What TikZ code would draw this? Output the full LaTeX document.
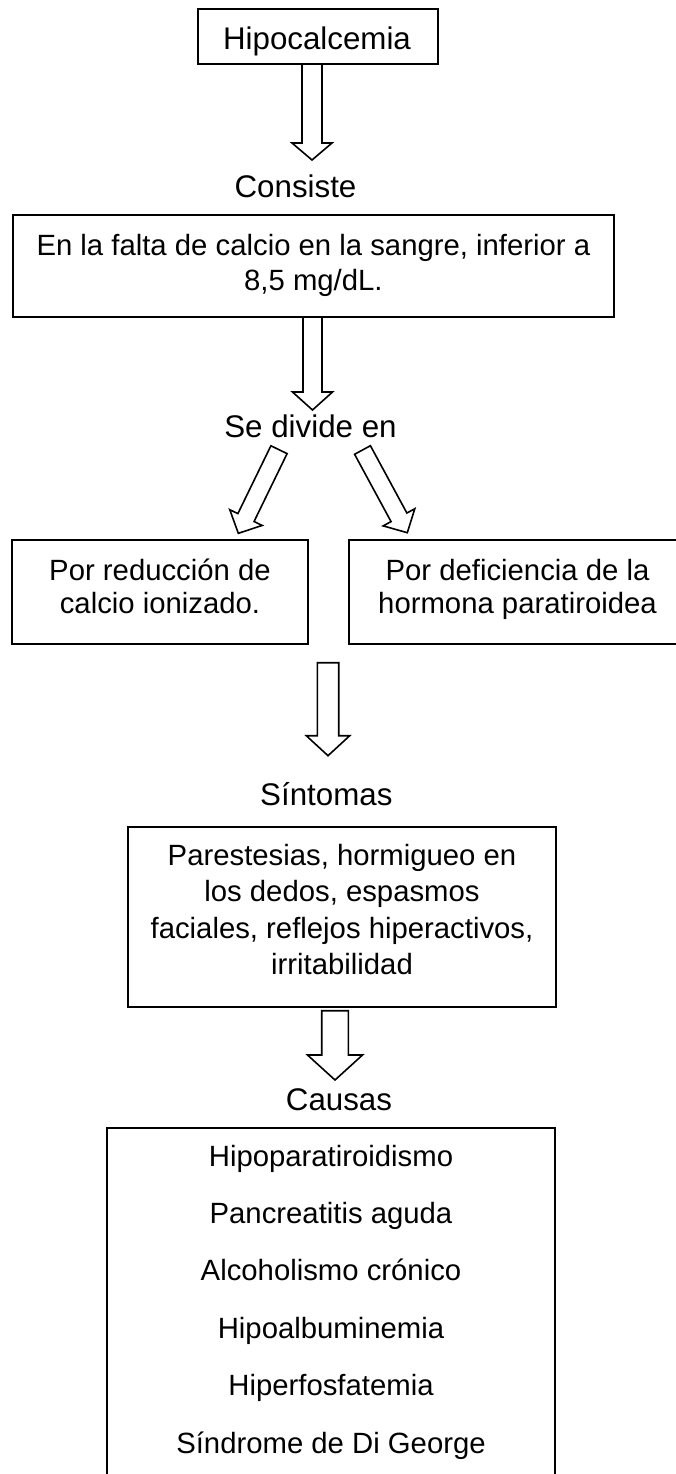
\documentclass[tikz,border=0pt]{standalone}
\usepackage{fontspec}
\setmainfont{Liberation Sans}
\usetikzlibrary{calc}
\tikzset{
  boxsty/.style={draw=black, line width=2pt, fill=none, inner sep=0pt},
  boxtxt/.style={font=\fontsize{29.3}{34.5}\selectfont, inner sep=0pt, anchor=base},
  lbl/.style={font=\fontsize{31.3}{36}\selectfont, inner sep=0pt, anchor=base},
  blockarr/.style={draw=black, line width=1.6pt, fill=white, line join=miter},
}
\newcommand{\blockarrow}[6]{%
  \coordinate (#1-h) at ($(#3)!#6!(#2)$);
  \draw[blockarr] ($(#2)!#4!90:(#3)$) -- ($(#1-h)!#4!90:(#3)$) -- ($(#1-h)!#5!90:(#3)$) -- (#3) -- ($(#1-h)!#5!-90:(#3)$) -- ($(#1-h)!#4!-90:(#3)$) -- ($(#2)!#4!-90:(#3)$) -- cycle;
}
\newcommand{\lines}[2]{{\fontsize{29.3}{#1}\selectfont\begin{tabular}[t]{@{}c@{}}#2\end{tabular}}}
\begin{document}
\begin{tikzpicture}[x=1pt,y=-1pt]
\useasboundingbox (0,0) rectangle (675,1474);

% boxes
\node[boxsty, minimum width=240pt, minimum height=54.7pt] (hipo) at (318,36.7) {};
\node[boxsty, minimum width=601.3pt, minimum height=101.7pt] (falta) at (313.4,265.9) {};
\node[boxsty, minimum width=296.6pt, minimum height=104pt] (red) at (160,592) {};
\node[boxsty, minimum width=337pt, minimum height=104pt] (def) at (517.5,592) {};
\node[boxsty, minimum width=427.7pt, minimum height=180pt] (sint) at (342.2,916.6) {};
\node[boxsty, minimum width=448.3pt, minimum height=372.3pt] (causbox) at (330.9,1313.85) {};

% texts
\node[lbl] (hipot) at (317,50) {Hipocalcemia};
\node[lbl] (consiste) at (295.5,197) {Consiste};
\node[boxtxt] (faltat) at (313.4,255) {\lines{35}{En la falta de calcio en la sangre, inferior a\\8,5 mg/dL.}};
\node[lbl] (sedivide) at (310.5,437) {Se divide en};
\node[boxtxt] (redt) at (160,580) {\lines{33.5}{Por reducción de\\calcio ionizado.}};
\node[boxtxt] (deft) at (517.5,580) {\lines{33.5}{Por deficiencia de la\\hormona paratiroidea}};
\node[lbl] (sintomas) at (326.3,805) {Síntomas};
\node[boxtxt] (sintt) at (342,865) {\lines{36.5}{Parestesias, hormigueo en\\los dedos, espasmos\\faciales, reflejos hiperactivos,\\irritabilidad}};
\node[lbl] (causas) at (339,1110) {Causas};
\node[boxtxt] (c1) at (331,1166) {Hipoparatiroidismo};
\node[boxtxt] (c2) at (331,1223.4) {Pancreatitis aguda};
\node[boxtxt] (c3) at (331,1280.8) {Alcoholismo crónico};
\node[boxtxt] (c4) at (331,1338.2) {Hipoalbuminemia};
\node[boxtxt] (c5) at (331,1395.6) {Hiperfosfatemia};
\node[boxtxt] (c6) at (331,1453) {Síndrome de Di George};

% arrow end points
\coordinate (a1t) at (312,64);     \coordinate (a1p) at (312,160);
\coordinate (a2t) at (312.5,317);  \coordinate (a2p) at (312.5,410);
\coordinate (aLt) at (279,449.7);  \coordinate (aLp) at (238.3,533.3);
\coordinate (aRt) at (362.5,450);  \coordinate (aRp) at (407.3,532.7);
\coordinate (a3t) at (328,662.7);  \coordinate (a3p) at (328,755.7);
\coordinate (a4t) at (335,1010.7); \coordinate (a4p) at (335,1080);

\blockarrow{a1}{a1t}{a1p}{10pt}{20pt}{17pt}
\blockarrow{a2}{a2t}{a2p}{9.5pt}{20pt}{18pt}
\blockarrow{aL}{aLt}{aLp}{9pt}{18pt}{17.5pt}
\blockarrow{aR}{aRt}{aRp}{9pt}{18pt}{17.5pt}
\blockarrow{a3}{a3t}{a3p}{10.7pt}{21.7pt}{20pt}
\blockarrow{a4}{a4t}{a4p}{13.3pt}{27.5pt}{25pt}
\end{tikzpicture}
\end{document}
